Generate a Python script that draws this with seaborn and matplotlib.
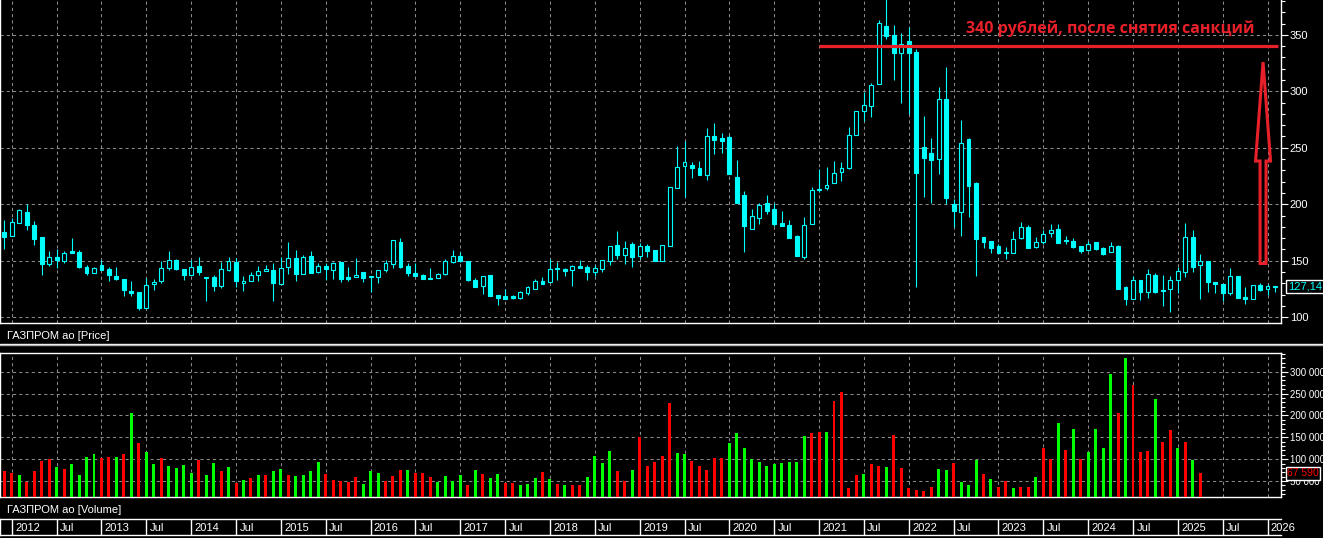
import numpy as np
import pandas as pd
import matplotlib
matplotlib.use('Agg')
import matplotlib.pyplot as plt
import matplotlib.ticker as mticker
from matplotlib.patches import FancyArrow
from matplotlib.lines import Line2D
from matplotlib.transforms import blended_transform_factory
import seaborn as sns

# monthly candles of ГАЗПРОМ ао, Dec 2011 .. Feb 2026
opens = [175.9, 172.0, 183.0, 193.2, 182.1, 170.8, 147.0, 153.6, 149.7, 158.3,
         157.4, 144.6, 139.3, 146.4, 142.3, 136.9, 134.2, 123.5, 122.6, 108.6,
         129.5, 131.8, 143.8, 150.9, 142.9, 137.2, 145.5, 135.7, 135.7, 127.4,
         141.7, 148.5, 130.1, 132.1, 137.2, 141.1, 142.0, 129.2, 144.3, 152.7,
         138.1, 154.5, 139.9, 145.8, 141.7, 148.5, 136.0, 135.4, 140.5, 136.9,
         135.4, 141.7, 147.3, 166.4, 145.8, 139.3, 137.8, 135.1, 134.5, 138.7,
         148.5, 154.5, 150.0, 133.3, 127.4, 137.8, 119.9, 119.0, 118.5, 117.3,
         121.4, 125.3, 132.4, 131.0, 144.0, 142.9, 141.7, 145.8, 144.9, 140.5,
         142.6, 149.7, 163.7, 154.8, 164.6, 154.2, 162.8, 159.2, 149.6, 162.9,
         214.5, 234.1, 234.7, 232.0, 225.8, 260.5, 258.8, 259.6, 224.0, 208.0,
         178.0, 187.8, 200.9, 195.5, 183.1, 181.3, 171.5, 153.1, 182.5, 212.7,
         214.5, 219.0, 228.2, 232.0, 261.7, 282.2, 287.3, 306.2, 357.8, 349.9,
         333.6, 344.5, 334.5, 250.7, 245.1, 240.4, 293.2, 200.3, 193.5, 258.1,
         219.2, 171.1, 167.6, 162.8, 157.8, 157.2, 170.5, 180.2, 162.5, 166.4,
         174.3, 177.9, 168.1, 167.6, 163.1, 159.6, 166.4, 161.4, 157.5, 163.1,
         126.8, 115.9, 133.0, 122.1, 137.5, 124.2, 124.8, 132.7, 139.8, 171.1,
         146.3, 149.6, 131.0, 129.2, 121.8, 136.6, 118.3, 115.9, 128.6, 124.8,
         128.0]
highs = [186.0, 187.5, 195.8, 200.3, 184.8, 171.4, 158.3, 160.1, 158.9, 170.5,
         159.8, 146.4, 144.6, 150.9, 144.6, 144.6, 134.2, 132.4, 122.6, 134.5,
         133.9, 149.4, 158.6, 151.2, 142.9, 150.9, 153.0, 135.7, 137.5, 148.5,
         153.6, 152.1, 136.9, 140.2, 145.2, 146.4, 147.6, 153.6, 166.4, 159.8,
         155.4, 158.3, 148.2, 148.2, 148.8, 148.5, 144.9, 152.1, 140.5, 136.9,
         141.4, 150.3, 168.8, 169.9, 147.9, 147.6, 138.7, 143.2, 139.3, 151.8,
         159.8, 158.0, 150.0, 135.1, 136.6, 137.8, 119.9, 125.3, 119.9, 123.2,
         127.4, 133.9, 135.7, 151.2, 148.8, 143.8, 146.7, 150.3, 146.7, 146.7,
         150.3, 162.8, 176.5, 167.6, 166.4, 166.1, 164.6, 159.2, 164.1, 215.7,
         251.6, 256.4, 237.1, 238.3, 267.7, 272.1, 263.2, 261.4, 239.5, 211.6,
         195.5, 201.5, 208.0, 201.5, 193.8, 185.8, 172.4, 188.4, 215.1, 231.2,
         232.9, 238.3, 237.4, 268.2, 282.5, 299.4, 307.1, 363.1, 389.0, 358.7,
         351.3, 357.2, 337.2, 278.2, 258.7, 303.5, 321.2, 204.7, 274.6, 258.7,
         219.8, 171.1, 167.6, 164.6, 162.5, 176.4, 184.4, 181.7, 170.8, 177.0,
         182.6, 182.3, 172.3, 169.9, 163.1, 167.6, 166.4, 162.0, 166.4, 164.0,
         128.0, 136.3, 133.0, 142.5, 138.9, 137.5, 136.6, 144.8, 183.2, 177.3,
         156.0, 149.6, 131.0, 129.2, 144.0, 136.6, 127.1, 128.3, 130.7, 129.5,
         128.0]
lows = [160.1, 172.0, 183.0, 177.4, 164.0, 137.2, 145.2, 143.8, 147.9, 156.8,
        143.8, 137.2, 139.0, 141.7, 131.8, 132.7, 119.0, 118.5, 106.8, 108.3,
        124.4, 130.1, 142.0, 141.7, 132.7, 137.2, 137.2, 114.0, 122.9, 125.6,
        141.1, 127.1, 122.9, 131.8, 131.8, 141.1, 114.0, 129.2, 138.1, 131.8,
        138.1, 139.0, 139.0, 133.0, 134.2, 131.0, 131.8, 135.4, 131.0, 122.3,
        130.1, 139.9, 143.8, 144.0, 136.9, 136.9, 133.6, 133.6, 134.5, 137.8,
        147.9, 148.8, 132.4, 127.1, 120.8, 119.0, 111.0, 115.8, 115.8, 115.8,
        119.9, 125.3, 129.2, 131.0, 133.3, 136.9, 128.0, 143.8, 133.3, 136.9,
        139.9, 146.7, 151.2, 147.0, 144.9, 151.2, 153.0, 149.4, 149.6, 162.9,
        214.5, 206.5, 223.1, 225.8, 221.7, 244.5, 245.7, 226.7, 200.9, 158.2,
        178.0, 182.5, 191.1, 180.7, 180.7, 170.0, 154.0, 152.0, 182.5, 211.2,
        212.7, 219.0, 220.5, 231.2, 261.7, 273.9, 277.6, 306.2, 346.0, 310.0,
        290.0, 279.9, 126.5, 206.2, 201.5, 227.1, 200.3, 180.2, 172.3, 189.1,
        136.6, 161.7, 156.6, 156.6, 151.3, 157.2, 169.0, 161.1, 161.1, 164.6,
        170.8, 165.5, 164.6, 161.1, 157.2, 159.0, 159.6, 155.5, 157.5, 125.4,
        110.6, 115.9, 115.0, 116.8, 121.2, 110.0, 105.0, 121.8, 136.0, 140.4,
        116.5, 122.7, 121.2, 114.7, 119.8, 116.8, 112.1, 115.9, 123.6, 119.8,
        122.7]
closes = [171.1, 183.9, 195.0, 181.8, 169.3, 147.0, 153.6, 150.3, 157.1, 156.8,
          144.3, 139.0, 143.8, 141.7, 137.2, 133.6, 123.8, 121.7, 108.6, 128.6,
          131.5, 143.8, 150.9, 142.6, 137.8, 144.6, 139.9, 134.5, 128.0, 142.3,
          149.4, 131.8, 132.4, 137.5, 141.1, 142.9, 130.1, 143.8, 152.7, 138.1,
          153.6, 139.0, 145.5, 142.6, 148.2, 134.2, 134.2, 137.8, 135.1, 135.4,
          141.4, 147.6, 168.8, 144.9, 139.0, 136.9, 134.2, 134.2, 138.4, 149.4,
          154.5, 149.7, 133.3, 127.1, 136.6, 119.0, 117.3, 115.8, 116.7, 122.3,
          126.5, 132.4, 129.5, 142.9, 142.6, 141.1, 145.8, 144.0, 140.5, 144.0,
          150.3, 162.8, 154.8, 161.6, 153.0, 162.8, 158.3, 149.4, 164.1, 215.1,
          232.6, 237.1, 232.0, 225.8, 260.2, 257.0, 256.4, 226.7, 201.5, 180.7,
          189.9, 199.7, 193.8, 182.2, 180.7, 170.0, 154.0, 181.9, 213.0, 213.3,
          217.5, 227.3, 231.8, 261.1, 282.5, 288.1, 305.6, 360.2, 349.3, 333.6,
          341.6, 334.2, 227.4, 241.3, 239.2, 293.2, 205.9, 194.4, 254.0, 216.5,
          169.6, 166.4, 161.4, 157.2, 157.2, 169.0, 180.2, 161.7, 166.4, 173.5,
          177.6, 166.1, 167.5, 162.5, 159.0, 165.2, 160.5, 156.0, 163.1, 125.4,
          115.9, 132.7, 122.1, 138.3, 122.4, 123.0, 132.7, 140.7, 171.1, 144.8,
          149.9, 131.6, 129.2, 121.8, 136.6, 117.4, 115.9, 128.3, 124.2, 127.7,
          127.14]

# monthly volume (thousands), Dec 2011 .. Apr 2025; g = green bar, r = red bar
volumes_k = [74, 68, 65, 49, 73, 97, 100, 83, 78, 88,
             65, 104, 113, 103, 106, 106, 113, 206, 138, 117,
             90, 102, 85, 81, 86, 68, 98, 65, 92, 72,
             83, 46, 53, 56, 65, 65, 73, 78, 65, 62,
             64, 73, 94, 66, 53, 51, 49, 59, 43, 73,
             69, 50, 62, 76, 76, 69, 69, 59, 49, 62,
             51, 65, 42, 76, 67, 56, 66, 46, 45, 40,
             43, 56, 71, 55, 44, 40, 40, 42, 59, 107,
             92, 119, 72, 50, 76, 151, 85, 94,
             108, 229, 115, 112, 97, 85, 76, 103, 103, 137,
             160, 126, 100, 94, 85, 90, 91, 94, 94, 153,
             160, 161, 162, 233, 253, 35, 64, 66, 89, 84,
             83, 155, 81, 35, 30, 28, 37, 78, 76, 91,
             48, 42, 98, 66, 55, 37, 50, 35, 37, 37,
             60, 126, 101, 183, 122, 169, 101, 117, 168, 126,
             295, 206, 332, 269, 117, 119, 237, 140, 167, 125,
             140, 98, 67.59]
volume_dir = ("rrgrrrrgrg" "gggrrgrgrg" "grggggrggr" "grgrgrggrg"
              "gggrrrrrgg" "grrrgrrrgg" "ggrgrggrrg" "ggrgrgrrgg" "ggrrgrrr"
              "rrggrrrrrg" "gggggggggg" "rrgrrrrgrr" "grrrrrrggr"
              "gggrgrrgrr" "grrgrgrggg" "grgrrrgrrg" "rgr")

price_ticks = [100, 150, 200, 250, 300, 350]
volume_ticks = [50000, 100000, 150000, 200000, 250000, 300000]
target_price = 340
target_text = '340 рублей, после снятия санкций'

CYAN = '#00ffff'
GREEN = '#00ff00'
RED = '#ff0000'
NOTE_RED = '#e8202a'
GRID = '#8a8a8a'

sns.set_theme(style='dark', rc={'figure.facecolor': 'black', 'axes.facecolor': 'black',
                                'text.color': 'white', 'axes.edgecolor': 'white'})
plt.rcParams['font.family'] = ['Liberation Sans', 'DejaVu Sans']

W, H = 1323, 538
fig = plt.figure(figsize=(W / 100, H / 100), dpi=100)


def px_axes(x0, y0, x1, y1):
    return fig.add_axes([x0 / W, 1 - y1 / H, (x1 - x0) / W, (y1 - y0) / H])


ax_p = px_axes(0, 0, 1281, 322.7)
ax_v = px_axes(0, 353, 1281, 497.3)
ax_t = px_axes(0, 519, 1281, 535)

months = pd.date_range('2011-12-01', periods=len(opens), freq='MS')
grid_idx = [i for i, m in enumerate(months) if m.month in (1, 7)]
grid_lbl = [str(m.year) if m.month == 1 else 'Jul' for m in months if m.month in (1, 7)]
XMIN, XMAX = -0.575, 170.8

# candles
x = np.arange(len(opens))
o, h, l, c = (np.array(a) for a in (opens, highs, lows, closes))
up = c >= o
ax_p.vlines(x, l, h, color=CYAN, lw=0.8, zorder=2)
ax_p.bar(x, np.abs(c - o), bottom=np.minimum(o, c), width=0.52,
         color=np.where(up, 'black', CYAN), edgecolor=CYAN, linewidth=0.8, zorder=3)

# volume
vol_df = pd.DataFrame({'month': np.arange(len(volumes_k)),
                       'volume': np.array(volumes_k) * 1000,
                       'dir': list(volume_dir)})
sns.barplot(data=vol_df, x='month', y='volume', hue='dir', palette={'g': GREEN, 'r': RED},
            native_scale=True, width=0.4, saturation=1, legend=False, errorbar=None,
            linewidth=0, ax=ax_v, zorder=3)


def style_panel(ax, yticks, ylim, minor_step, fmt, labelsize):
    ax.set_xlim(XMIN, XMAX)
    ax.set_ylim(*ylim)
    ax.set_xlabel('')
    ax.set_ylabel('')
    ax.set_xticks(grid_idx)
    ax.tick_params(axis='x', length=0, labelbottom=False)
    ax.yaxis.tick_right()
    ax.set_yticks(yticks)
    ax.yaxis.set_major_formatter(mticker.FuncFormatter(fmt))
    ax.yaxis.set_minor_locator(mticker.MultipleLocator(minor_step))
    ax.tick_params(axis='y', which='major', colors='white', length=5, width=0.8, pad=1.2,
                   labelsize=labelsize)
    ax.tick_params(axis='y', which='minor', colors='white', length=3, width=0.8)
    ax.grid(True, which='major', color=GRID, ls=(0, (3, 3)), lw=0.75)
    for s in ax.spines.values():
        s.set_color('white')
        s.set_linewidth(1)


style_panel(ax_p, price_ticks, (95.2, 380.8), 10, lambda v, p: f'{v:.0f}', 8)
style_panel(ax_v, volume_ticks, (13000, 342500), 10000,
            lambda v, p: f'{int(v):,}'.replace(',', ' '), 7)
ax_p.spines['top'].set_visible(False)

# last values on the right axis
tp = blended_transform_factory(ax_p.transAxes, ax_p.transData)
ax_p.text(1288 / 1281, closes[-1], f'{closes[-1]:.2f}'.replace('.', ','), transform=tp,
          color=CYAN, fontsize=8, va='center', ha='left', zorder=10, clip_on=False,
          bbox=dict(boxstyle='square,pad=0.15', fc='black', ec='white', lw=1))
tv = blended_transform_factory(ax_v.transAxes, ax_v.transData)
last_vol = int(round(volumes_k[-1] * 1000))
ax_v.text(1287.5 / 1281, last_vol, f'{last_vol:,}'.replace(',', ' '), transform=tv,
          color=RED, fontsize=7.5, va='center', ha='left', zorder=10, clip_on=False,
          bbox=dict(boxstyle='square,pad=0.12', fc='black', ec='white', lw=1))

# annotation: target level and arrow
start_2021 = months.get_loc(pd.Timestamp('2021-01-01'))
ax_p.hlines(target_price, start_2021, XMAX - 0.4, color=NOTE_RED, lw=2.3, zorder=6)
ax_p.text(147.9, 355, target_text, ha='center', va='center', color=NOTE_RED,
          fontsize=11.5, fontweight='bold', family=['Open Sans', 'DejaVu Sans'], zorder=6)
ax_p.add_patch(FancyArrow(168.4, 147.6, 0, 178.3, width=0.8, head_width=2.0, head_length=87.6,
                          length_includes_head=True, fill=False, ec=NOTE_RED, lw=2.2, zorder=6))

# time strip
ax_t.set_xlim(XMIN, XMAX)
ax_t.set_ylim(0, 1)
ax_t.set_xticks([])
ax_t.set_yticks([])
ax_t.vlines(grid_idx, 0, 1, color='white', lw=1)
for gi, lbl in zip(grid_idx, grid_lbl):
    ax_t.text(gi + 0.45, 0.45, lbl, color='white', fontsize=8, ha='left', va='center', clip_on=False)
for name, s in ax_t.spines.items():
    s.set_color('white')
    s.set_linewidth(1)
ax_t.spines['right'].set_visible(False)

# panel captions and separator
fig.text(7 / W, 1 - 336 / H, 'ГАЗПРОМ ао [Price]', color='white', fontsize=8, va='center')
fig.text(7 / W, 1 - 510 / H, 'ГАЗПРОМ ао [Volume]', color='white', fontsize=8, va='center')
fig.add_artist(Line2D([0, 1], [1 - 343.8 / H] * 2, transform=fig.transFigure, color='white', lw=1))
fig.add_artist(Line2D([0, 1], [1 - 345.2 / H] * 2, transform=fig.transFigure, color='#b0b0b0', lw=1))

fig.savefig('out.png', dpi=100, facecolor='black')
